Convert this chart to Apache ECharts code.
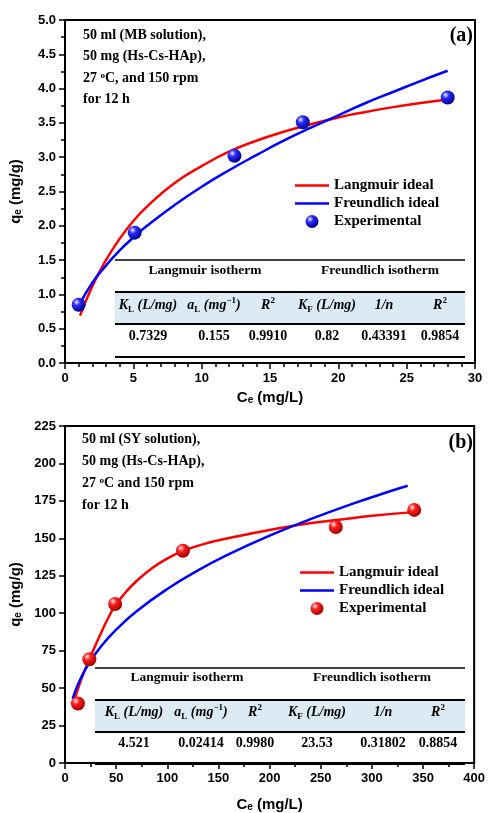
<!DOCTYPE html>
<html>
<head>
<meta charset="utf-8">
<script src="https://cdn.jsdelivr.net/npm/echarts@6/dist/echarts.min.js"></script>
<style>
  html, body { margin: 0; padding: 0; background: #fff; }
  #main { width: 488px; height: 813px; }
</style>
</head>
<body>
<div id="main"></div>
<script>
// (a) MB solution
const expA_C = [1.0, 5.1, 12.4, 17.4, 28.0];
const expA_q = [0.85, 1.90, 3.02, 3.51, 3.87];
const langA_C = [1.1, 2, 3, 4, 5, 6, 8, 10, 12, 14, 16, 18, 20, 22, 24, 26, 28];
const langA_q = [0.69, 1.12, 1.50, 1.81, 2.07, 2.28, 2.62, 2.87, 3.08, 3.24, 3.37, 3.48, 3.58, 3.66, 3.73, 3.79, 3.84];
const freuA_C = [1.0, 2, 3, 4, 5, 6, 8, 10, 12, 14, 16, 18, 20, 22, 24, 26, 28];
const freuA_q = [0.83, 1.17, 1.42, 1.64, 1.83, 2.00, 2.30, 2.57, 2.81, 3.03, 3.24, 3.43, 3.61, 3.79, 3.95, 4.11, 4.26];

// (b) SY solution
const expB_C = [12.6, 23.8, 49, 115.3, 264.7, 341.4];
const expB_q = [39.7, 69.3, 106.2, 141.7, 157.6, 169];
const langB_C = [9, 12, 16, 20, 24, 30, 36, 42, 49, 60, 70, 85, 100, 115, 140, 170, 200, 234, 270, 300, 340];
const langB_q = [42, 48, 56, 63, 69.5, 79, 88, 96.5, 105, 114.5, 121.5, 130, 136.5, 141.5, 147, 151.5, 155.5, 159.5, 162.5, 165, 167.5];
const freuB_C = [7.5, 12, 18, 24, 35, 50, 70, 100, 130, 160, 200, 240, 280, 320, 335];
const freuB_q = [42.9, 51.4, 60.1, 67.1, 77.6, 89.0, 101.3, 116.2, 128.6, 139.3, 151.8, 162.8, 172.8, 181.9, 185.1];

// tables
const tabGroups = ['Langmuir isotherm', 'Freundlich isotherm'];
const tabHeads = ['{i|K}{s|L}{i| (L/mg)}', '{i|a}{s|L}{i| (mg}{p|−1}{i|)}', '{i|R}{p|2}',
                  '{i|K}{s|F}{i| (L/mg)}', '{i|1/n}', '{i|R}{p|2}'];
const tabValsA = ['0.7329', '0.155', '0.9910', '0.82', '0.43391', '0.9854'];
const tabValsB = ['4.521', '0.02414', '0.9980', '23.53', '0.31802', '0.8854'];

const notesA = ['50 ml (MB solution),', '50 mg (Hs-Cs-HAp),', '27 {o|o}C, and 150 rpm', 'for 12 h'];
const notesB = ['50 ml (SY solution),', '50 mg (Hs-Cs-HAp),', '27 {o|o}C and 150 rpm', 'for 12 h'];

const zip = (xs, ys) => xs.map((x, i) => [x, ys[i]]);

const SERIF = 'Liberation Serif';
const SANS = 'Liberation Sans';

var myChart = echarts.init(document.getElementById('main'));

function ball(c0, c1, c2) {
  return {
    type: 'radial', x: 0.35, y: 0.32, r: 0.7,
    colorStops: [{offset: 0, color: c0}, {offset: 0.35, color: c1}, {offset: 1, color: c2}]
  };
}
const blueBall = ball('#eef0ff', '#2a2aff', '#00008a');
const redBall = ball('#fff0f0', '#ff2020', '#a00000');

const richSub = {
  i: {fontFamily: SERIF, fontWeight: 'bold', fontStyle: 'italic', fontSize: 14, lineHeight: 18, color: '#000'},
  s: {fontFamily: SERIF, fontWeight: 'bold', fontSize: 9, verticalAlign: 'bottom', color: '#000'},
  p: {fontFamily: SERIF, fontWeight: 'bold', fontSize: 9, verticalAlign: 'top', color: '#000'}
};

function txt(x, y, text, size, align, rich) {
  return {
    type: 'text', x: x, y: y, z: 10,
    style: {
      text: text, fontFamily: SERIF, fontWeight: 'bold', fontSize: size, fill: '#000',
      align: align || 'left', verticalAlign: 'middle', rich: rich
    }
  };
}
function hline(x1, x2, y, w) {
  return {type: 'line', z: 10, shape: {x1: x1, y1: y, x2: x2, y2: y}, style: {stroke: '#000', lineWidth: w}};
}

function table(t, vals) {
  const g = [];
  g.push({type: 'rect', z: 9, shape: {x: t.x1, y: t.bandTop, width: t.x2 - t.x1, height: t.bandBot - t.bandTop},
          style: {fill: '#dcebf3'}});
  g.push(hline(t.x1, t.x2, t.top, 1.5));
  g.push(hline(t.x1, t.x2, t.bandTop, 2));
  g.push(hline(t.x1, t.x2, t.bandBot, 2));
  g.push(hline(t.x1, t.x2, t.bot, 2));
  g.push(txt(t.g1, t.groupY, tabGroups[0], 13.5, 'center'));
  g.push(txt(t.g2, t.groupY, tabGroups[1], 13.5, 'center'));
  tabHeads.forEach((h, i) => g.push(txt(t.cols[i], t.headY, h, 14, 'center', richSub)));
  vals.forEach((v, i) => g.push(txt(t.cols[i], t.valY, v, 14, 'center')));
  return g;
}

function notes(x, y0, dy, lines) {
  return lines.map((l, i) => txt(x, y0 + i * dy, l, 14, 'left', {
    o: {fontFamily: SERIF, fontWeight: 'bold', fontSize: 9, verticalAlign: 'top', color: '#000'}
  }));
}

const graphic = [].concat(
  table({x1: 115, x2: 465, top: 260, groupY: 271, bandTop: 292, bandBot: 324, headY: 305, valY: 336, bot: 357,
         g1: 205, g2: 380, cols: [148, 214, 268, 327, 384, 440]}, tabValsA),
  table({x1: 95, x2: 465, top: 668, groupY: 678, bandTop: 700, bandBot: 732, headY: 712, valY: 743, bot: 764,
         g1: 187, g2: 372, cols: [134, 201, 255, 317, 383, 438]}, tabValsB),
  notes(83, 35, 21.5, notesA),
  notes(82, 439, 22, notesB),
  [txt(473, 36, '(a)', 20, 'right'), txt(473, 443, '(b)', 20, 'right')]
);

function xAx(gi, max, interval, minorSplit, gap) {
  return {
    type: 'value', gridIndex: gi, min: 0, max: max, interval: interval,
    name: 'C{e|e} (mg/L)', nameLocation: 'middle', nameGap: gap,
    nameTextStyle: {fontFamily: SANS, fontWeight: 'bold', fontSize: 15, color: '#000',
      rich: {e: {fontFamily: SANS, fontWeight: 'bold', fontSize: 10, verticalAlign: 'bottom', color: '#000'}}},
    axisLine: {lineStyle: {color: '#000', width: 2}},
    axisTick: {show: true, inside: false, length: 6, lineStyle: {color: '#000', width: 1.5}},
    minorTick: {show: true, splitNumber: minorSplit, length: 4, lineStyle: {color: '#000', width: 1.5}},
    minorSplitLine: {show: false},
    axisLabel: {fontFamily: SANS, fontWeight: 'bold', fontSize: 13, color: '#000', margin: 9},
    splitLine: {show: false}
  };
}
function yAx(gi, max, interval, minorSplit, fmt) {
  return {
    type: 'value', gridIndex: gi, min: 0, max: max, interval: interval,
    name: 'q{e|e} (mg/g)', nameLocation: 'middle', nameGap: 42, nameRotate: 90,
    nameTextStyle: {fontFamily: SANS, fontWeight: 'bold', fontSize: 15, color: '#000',
      rich: {e: {fontFamily: SANS, fontWeight: 'bold', fontSize: 10, verticalAlign: 'bottom', color: '#000'}}},
    axisLine: {lineStyle: {color: '#000', width: 2}},
    axisTick: {show: true, inside: false, length: 6, lineStyle: {color: '#000', width: 1.5}},
    minorTick: {show: minorSplit > 1, splitNumber: minorSplit, length: 4, lineStyle: {color: '#000', width: 1.5}},
    minorSplitLine: {show: false},
    axisLabel: {fontFamily: SANS, fontWeight: 'bold', fontSize: 13, color: '#000', margin: 9, formatter: fmt},
    splitLine: {show: false}
  };
}

const legendText = {fontFamily: SERIF, fontWeight: 'bold', fontSize: 15, color: '#000'};
const lineIcon = 'path://M0,0H40V3H0Z';

var option = {
  animation: false,
  backgroundColor: '#fff',
  grid: [
    {left: 61, top: 20, width: 414, height: 343, show: true, borderColor: '#000', borderWidth: 2, backgroundColor: 'transparent'},
    {left: 61, top: 426, width: 414, height: 344, show: true, borderColor: '#000', borderWidth: 2, backgroundColor: 'transparent'}
  ],
  xAxis: [xAx(0, 30, 5, 5, 27), xAx(1, 400, 50, 2, 34)],
  yAxis: [yAx(0, 5, 0.5, 2, v => v.toFixed(1)), yAx(1, 225, 25, 1, v => String(v))],
  legend: [
    {left: 295, top: 178, orient: 'vertical', itemWidth: 34, itemHeight: 13, itemGap: 3, padding: 0,
     data: [{name: 'Langmuir ideal', icon: lineIcon}, {name: 'Freundlich ideal', icon: lineIcon}, {name: 'Experimental', icon: 'circle'}],
     textStyle: legendText},
    {left: 300, top: 565, orient: 'vertical', itemWidth: 34, itemHeight: 13, itemGap: 3, padding: 0,
     data: [{name: 'Langmuir ideal (b)', icon: lineIcon}, {name: 'Freundlich ideal (b)', icon: lineIcon}, {name: 'Experimental (b)', icon: 'circle'}],
     textStyle: legendText,
     formatter: n => n.replace(' (b)', '')}
  ],
  series: [
    {name: 'Langmuir ideal', type: 'line', xAxisIndex: 0, yAxisIndex: 0, data: zip(langA_C, langA_q),
     smooth: true, symbol: 'none', lineStyle: {color: '#ff0000', width: 2.5}, itemStyle: {color: '#ff0000'}},
    {name: 'Freundlich ideal', type: 'line', xAxisIndex: 0, yAxisIndex: 0, data: zip(freuA_C, freuA_q),
     smooth: true, symbol: 'none', lineStyle: {color: '#0000ff', width: 2.5}, itemStyle: {color: '#0000ff'}},
    {name: 'Experimental', type: 'scatter', xAxisIndex: 0, yAxisIndex: 0, data: zip(expA_C, expA_q),
     symbolSize: 14, z: 5, itemStyle: {color: blueBall, opacity: 1}},
    {name: 'Langmuir ideal (b)', type: 'line', xAxisIndex: 1, yAxisIndex: 1, data: zip(langB_C, langB_q),
     smooth: true, symbol: 'none', lineStyle: {color: '#ff0000', width: 2.5}, itemStyle: {color: '#ff0000'}},
    {name: 'Freundlich ideal (b)', type: 'line', xAxisIndex: 1, yAxisIndex: 1, data: zip(freuB_C, freuB_q),
     smooth: true, symbol: 'none', lineStyle: {color: '#0000ff', width: 2.5}, itemStyle: {color: '#0000ff'}},
    {name: 'Experimental (b)', type: 'scatter', xAxisIndex: 1, yAxisIndex: 1, data: zip(expB_C, expB_q),
     symbolSize: 14, z: 5, itemStyle: {color: redBall, opacity: 1}}
  ],
  graphic: graphic
};

myChart.setOption(option);
</script>
</body>
</html>
